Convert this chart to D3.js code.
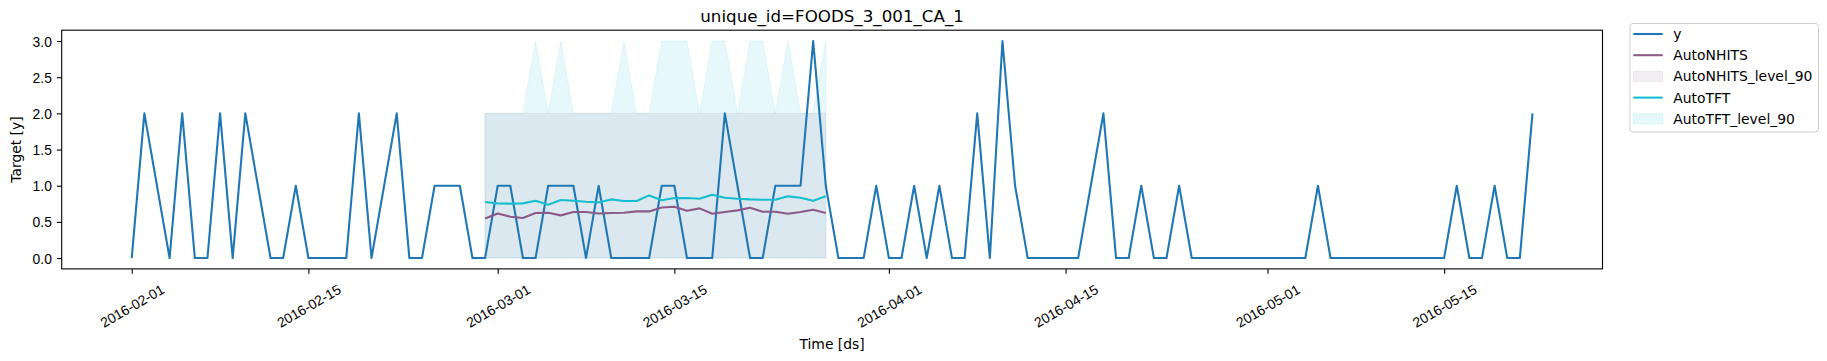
<!DOCTYPE html>
<html>
<head>
<meta charset="utf-8">
<script src="https://cdn.jsdelivr.net/npm/d3@7"></script>
<style>
  html, body { margin: 0; padding: 0; background: #fff; }
  svg { display: block; font-family: "DejaVu Sans", sans-serif; }
</style>
</head>
<body>
<svg id="chart" width="1827" height="361"></svg>
<script>
// ---------------- data ----------------
const title = "unique_id=FOODS_3_001_CA_1";
const startDate = "2016-02-01";
// observed y, one value per day starting at startDate
const yValues = [
  0,2,1,0,2,0,0,2,0,2,1,0,0,1,0,0,0,0,2,0,1,2,0,0,1,1,1,0,0,1,
  1,0,0,1,1,1,0,1,0,0,0,0,1,1,0,0,0,2,1,0,0,1,1,1,3,1,0,0,0,1,
  0,0,1,0,1,0,0,2,0,3,1,0,0,0,0,0,1,2,0,0,1,0,0,1,0,0,0,0,0,0,
  0,0,0,0,1,0,0,0,0,0,0,0,0,0,0,1,0,0,1,0,0,2
];
// forecast window starts at this date (28 days)
const forecastStart = "2016-02-29";
const nhitsMean = [
  0.548,0.617,0.571,0.553,0.622,0.627,0.590,0.636,0.636,0.617,
  0.622,0.627,0.645,0.645,0.698,0.710,0.654,0.687,0.613,0.636,
  0.659,0.696,0.641,0.641,0.613,0.636,0.668,0.622
];
const nhitsLo90 = [0,0,0,0,0,0,0,0,0,0,0,0,0,0,0,0,0,0,0,0,0,0,0,0,0,0,0,0];
const nhitsHi90 = [2,2,2,2,2,2,2,2,2,2,2,2,2,2,2,2,2,2,2,2,2,2,2,2,2,2,2,2];
const tftMean = [
  0.774,0.756,0.752,0.756,0.793,0.737,0.802,0.793,0.779,0.770,
  0.811,0.788,0.788,0.866,0.800,0.829,0.829,0.820,0.876,0.834,
  0.820,0.811,0.806,0.806,0.853,0.834,0.793,0.853
];
const tftLo90 = [0,0,0,0,0,0,0,0,0,0,0,0,0,0,0,0,0,0,0,0,0,0,0,0,0,0,0,0];
const tftHi90 = [2,2,2,2,3,2,3,2,2,2,2,3,2,2,3,3,3,2,3,3,2,3,3,2,3,2,2,3];
const xTickLabels = ["2016-02-01","2016-02-15","2016-03-01","2016-03-15","2016-04-01","2016-04-15","2016-05-01","2016-05-15"];
const yTickValues = [0,0.5,1,1.5,2,2.5,3];
const legendLabels = ["y","AutoNHITS","AutoNHITS_level_90","AutoTFT","AutoTFT_level_90"];

// ---------------- helpers ----------------
const parse = d3.utcParse("%Y-%m-%d");
const t0 = parse(startDate);
const f0 = parse(forecastStart);
const yData = yValues.map((v, i) => ({ ds: d3.utcDay.offset(t0, i), v }));
const fData = nhitsMean.map((v, i) => ({
  ds: d3.utcDay.offset(f0, i),
  nh: v, nhLo: nhitsLo90[i], nhHi: nhitsHi90[i],
  tft: tftMean[i], tftLo: tftLo90[i], tftHi: tftHi90[i]
}));

const C_Y = "#1f77b4", C_NH = "#8c5a89", C_TFT = "#17becf";
const BAND_OP = 0.1;

// ---------------- layout ----------------
const svg = d3.select("#chart");
const axL = 61.7, axR = 1602.5, axT = 30.2, axB = 268.9;

const xExt = d3.extent(yData, d => d.ds);
const span = xExt[1] - xExt[0];
const x = d3.scaleUtc()
  .domain([new Date(+xExt[0] - span * 0.05), new Date(+xExt[1] + span * 0.05)])
  .range([axL, axR]);
const y = d3.scaleLinear().domain([-0.15, 3.15]).range([axB, axT]);

// bands
const areaGen = (lo, hi) => d3.area().x(d => x(d.ds)).y0(d => y(d[lo])).y1(d => y(d[hi]));
svg.append("path")
  .attr("d", areaGen("nhLo", "nhHi")(fData))
  .attr("fill", C_NH).attr("fill-opacity", BAND_OP)
  .attr("stroke", C_NH).attr("stroke-opacity", BAND_OP).attr("stroke-width", 1);
svg.append("path")
  .attr("d", areaGen("tftLo", "tftHi")(fData))
  .attr("fill", C_TFT).attr("fill-opacity", BAND_OP)
  .attr("stroke", C_TFT).attr("stroke-opacity", BAND_OP).attr("stroke-width", 1);

// lines
const lineGen = key => d3.line().x(d => x(d.ds)).y(d => y(d[key]));
svg.append("path").attr("d", lineGen("v")(yData))
  .attr("fill", "none").attr("stroke", C_Y).attr("stroke-width", 2.08).attr("stroke-linejoin", "round");
svg.append("path").attr("d", lineGen("nh")(fData))
  .attr("fill", "none").attr("stroke", C_NH).attr("stroke-width", 2.08).attr("stroke-linejoin", "round");
svg.append("path").attr("d", lineGen("tft")(fData))
  .attr("fill", "none").attr("stroke", C_TFT).attr("stroke-width", 2.08).attr("stroke-linejoin", "round");

// frame
svg.append("rect").attr("x", axL).attr("y", axT)
  .attr("width", axR - axL).attr("height", axB - axT)
  .attr("fill", "none").attr("stroke", "#000").attr("stroke-width", 1.1);

// x axis
const xTicks = xTickLabels.map(parse);
const fmt = d3.utcFormat("%Y-%m-%d");
const xAxis = d3.axisBottom(x).tickValues(xTicks).tickFormat(fmt).tickSize(4.9).tickPadding(0);
const gx = svg.append("g").attr("transform", `translate(0,${axB})`).call(xAxis);
gx.select(".domain").remove();
gx.selectAll(".tick line").attr("stroke", "#000").attr("stroke-width", 1.1);
gx.selectAll(".tick text")
  .attr("font-size", 13.9).attr("fill", "#000")
  .attr("text-anchor", "middle").attr("dy", null)
  .attr("dominant-baseline", "central")
  .attr("y", 0)
  .attr("transform", "translate(0,37) rotate(-30)");

// y axis
const yAxis = d3.axisLeft(y).tickValues(yTickValues).tickFormat(d3.format(".1f")).tickSize(4.9).tickPadding(4.9);
const gy = svg.append("g").attr("transform", `translate(${axL},0)`).call(yAxis);
gy.select(".domain").remove();
gy.selectAll(".tick line").attr("stroke", "#000").attr("stroke-width", 1.1);
gy.selectAll(".tick text").attr("font-size", 13.9).attr("fill", "#000")
  .attr("dy", null).attr("dominant-baseline", "central");

// labels
svg.append("text").attr("x", (axL + axR) / 2).attr("y", 22)
  .attr("text-anchor", "middle").attr("font-size", 16.7).attr("fill", "#000").text(title);
svg.append("text").attr("x", (axL + axR) / 2).attr("y", 344)
  .attr("text-anchor", "middle").attr("dominant-baseline", "central")
  .attr("font-size", 13.9).attr("fill", "#000").text("Time [ds]");
svg.append("text").attr("transform", `translate(16,${(axT + axB) / 2}) rotate(-90)`)
  .attr("text-anchor", "middle").attr("dominant-baseline", "central")
  .attr("font-size", 13.9).attr("fill", "#000").text("Target [y]");

// legend
const lg = svg.append("g");
lg.append("rect").attr("x", 1630).attr("y", 23.5).attr("width", 188.5).attr("height", 108.5)
  .attr("rx", 3).attr("fill", "#fff").attr("fill-opacity", 0.8)
  .attr("stroke", "#cccccc").attr("stroke-width", 1);
const legendKinds = [
  { kind: "line", color: C_Y },
  { kind: "line", color: C_NH },
  { kind: "patch", color: C_NH },
  { kind: "line", color: C_TFT },
  { kind: "patch", color: C_TFT }
];
legendLabels.forEach((lab, i) => {
  const cy = 34 + i * 21.2;
  const k = legendKinds[i];
  if (k.kind === "line") {
    lg.append("line").attr("x1", 1633.3).attr("x2", 1662.7).attr("y1", cy).attr("y2", cy)
      .attr("stroke", k.color).attr("stroke-width", 2.08);
  } else {
    lg.append("rect").attr("x", 1633.5).attr("y", cy - 5).attr("width", 29).attr("height", 10)
      .attr("fill", k.color).attr("fill-opacity", BAND_OP)
      .attr("stroke", k.color).attr("stroke-opacity", BAND_OP);
  }
  lg.append("text").attr("x", 1673.3).attr("y", cy).attr("dominant-baseline", "central")
    .attr("font-size", 13.9).attr("fill", "#000").text(lab);
});
</script>
</body>
</html>
